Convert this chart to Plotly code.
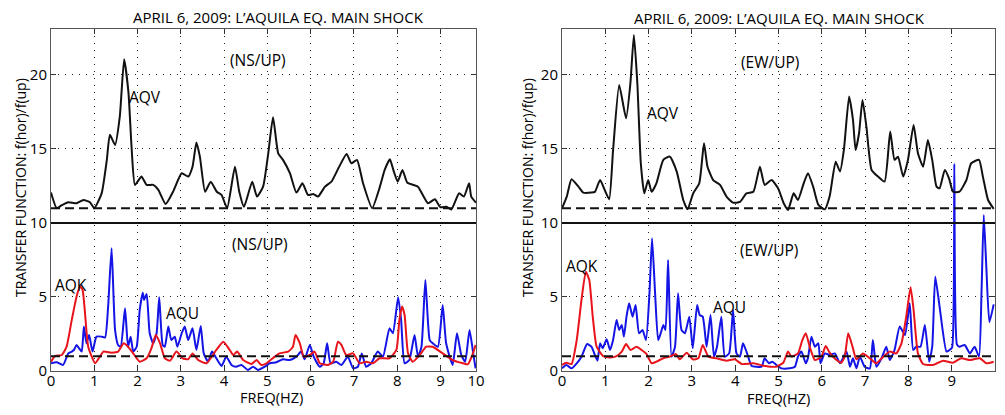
import plotly.graph_objects as go

# ---------------- data (frequency Hz, spectral ratio) ----------------
OFFSET = 10          # AQV curves are shifted up by 10
REF_LEVEL = 1        # dashed reference level (ratio = 1)

NS_AQV = [(0, 2.05), (0.13, 1.0), (0.25, 1.2), (0.40, 1.4), (0.59, 1.33), (0.75, 1.55), (0.90, 1.4),
          (1.0, 1.0), (1.17, 2.0), (1.29, 4.26), (1.36, 5.95), (1.48, 5.27), (1.59, 7.2), (1.69, 11.06),
          (1.79, 8.8), (1.86, 5.2), (1.94, 2.57), (2.09, 3.13), (2.21, 2.57), (2.36, 2.57), (2.48, 2.23),
          (2.65, 1.28), (2.82, 2.11), (3.02, 3.36), (3.17, 3.13), (3.27, 3.8), (3.36, 5.43), (3.44, 4.48),
          (3.56, 2.11), (3.69, 2.79), (3.83, 2.11), (3.94, 1.89), (4.07, 1.0), (4.25, 3.8), (4.35, 2.11),
          (4.46, 1.1), (4.65, 2.79), (4.76, 1.78), (4.90, 2.45), (5.02, 4.7), (5.13, 7.14), (5.25, 4.7),
          (5.36, 4.26), (5.52, 3.36), (5.67, 2.05), (5.81, 2.68), (5.94, 1.89), (6.06, 1.96), (6.17, 1.78),
          (6.33, 2.45), (6.48, 2.79), (6.64, 3.69), (6.83, 4.66), (6.94, 4.03), (7.07, 4.26), (7.21, 2.68),
          (7.42, 1.0), (7.60, 2.45), (7.71, 3.58), (7.83, 4.3), (7.91, 3.58), (8.01, 2.79), (8.12, 3.58),
          (8.23, 2.73), (8.37, 2.57), (8.48, 2.45), (8.71, 1.33), (8.87, 1.6), (9.0, 1.06), (9.14, 1.1),
          (9.25, 0.9), (9.43, 2.0), (9.54, 1.78), (9.66, 2.68), (9.71, 1.78), (9.82, 1.37)]

NS_AQK = [(0, .63), (.09, 1.01), (.25, 1.08), (.36, 1.64), (.48, 3.45), (.59, 5.02), (.67, 5.7), (.73, 5.47),
          (.78, 4.12), (.86, 1.64), (1.02, .52), (1.13, .97), (1.21, 1.31), (1.40, 1.24), (1.55, 1.31),
          (1.68, 1.87), (1.78, 1.64), (1.90, 1.19), (2.05, .63), (2.21, .86), (2.32, 1.53), (2.42, 2.43),
          (2.52, 1.87), (2.63, .86), (2.75, .70), (2.90, 1.31), (3.04, .86), (3.17, .79), (3.27, 1.19),
          (3.40, .74), (3.59, .52), (3.82, 1.42), (3.98, 1.98), (4.13, 1.42), (4.21, 1.08), (4.30, 1.31),
          (4.44, .74), (4.63, .47), (4.75, .74), (4.86, .41), (4.98, .52), (5.17, .97), (5.28, 1.19),
          (5.48, 1.31), (5.59, 1.64), (5.65, 2.43), (5.75, 1.87), (5.84, .97), (5.98, 1.08), (6.09, 1.31),
          (6.21, .52), (6.40, .41), (6.52, .63), (6.63, 1.98), (6.71, 1.76), (6.82, 1.08), (6.98, 1.19),
          (7.13, .52), (7.28, .63), (7.44, .52), (7.59, .86), (7.82, .86), (7.98, 1.42), (8.05, 3.45),
          (8.11, 4.35), (8.17, 3.78), (8.25, 1.19), (8.36, .63), (8.52, 1.08), (8.67, 1.64), (8.82, 1.64),
          (9.05, 1.19), (9.28, .74), (9.52, .52), (9.63, .45), (9.75, 1.19), (9.81, 1.76)]

NS_AQU = [(0, .52), (.13, .59), (.28, .41), (.40, 1.19), (.48, 1.31), (.53, 1.42), (.59, 1.76), (.65, 1.53),
          (.71, 1.31), (.76, 3.0), (.82, 1.87), (.88, 2.43), (.96, 1.31), (1.05, 2.32), (1.17, 2.32),
          (1.25, 2.27), (1.32, 4.35), (1.40, 8.29), (1.48, 2.77), (1.55, 1.76), (1.61, 1.64), (1.71, 4.23),
          (1.78, 1.64), (1.84, 2.32), (1.90, 1.31), (1.98, 1.64), (2.05, 4.12), (2.12, 5.29), (2.15, 4.8),
          (2.21, 5.2), (2.28, 2.55), (2.36, 1.87), (2.44, 2.55), (2.50, 4.98), (2.58, 1.76), (2.63, 1.64),
          (2.71, 3.0), (2.78, 2.09), (2.86, 2.32), (2.92, 1.64), (3.02, 2.55), (3.09, 3.0), (3.17, 2.09),
          (3.27, 2.88), (3.36, 1.42), (3.46, 3.04), (3.53, 1.19), (3.63, .63), (3.72, 1.31), (3.82, .86),
          (3.94, .34), (4.05, .97), (4.17, .41), (4.28, .29), (4.40, .41), (4.55, .07), (4.67, .29),
          (4.78, .07), (4.94, .29), (5.05, .52), (5.21, .59), (5.36, .79), (5.52, .74), (5.67, .97),
          (5.78, 1.31), (5.86, .79), (5.98, 1.76), (6.07, .97), (6.21, .29), (6.30, .52), (6.38, 1.87),
          (6.46, .52), (6.59, .63), (6.71, .41), (6.86, .97), (6.98, .18), (7.09, .29), (7.18, 1.19),
          (7.28, .29), (7.40, .52), (7.55, 1.31), (7.67, .97), (7.82, 2.88), (7.90, 2.55), (8.02, 4.98),
          (8.09, 3.45), (8.17, .52), (8.28, .74), (8.40, 2.43), (8.48, .97), (8.56, 1.64), (8.65, 6.15),
          (8.75, 2.09), (8.82, 1.87), (8.94, 1.64), (9.05, 4.46), (9.13, 1.87), (9.28, .41), (9.38, 2.55),
          (9.48, 1.08), (9.57, .63), (9.67, 2.77), (9.75, 1.31), (9.81, .18)]

EW_AQV = [(0, .99), (.11, 1.78), (.22, 2.95), (.38, 2.45), (.49, 2.05), (.68, 2.05), (.76, 2.1), (.88, 2.9),
          (.99, 2.2), (1.09, 1.6), (1.18, 4.93), (1.32, 9.32), (1.48, 7.07), (1.58, 9.44), (1.66, 12.7),
          (1.74, 9.44), (1.82, 4.03), (1.90, 2.0), (1.99, 2.9), (2.07, 2.11), (2.18, 2.68), (2.34, 4.26),
          (2.49, 4.48), (2.65, 3.47), (2.80, 1.55), (2.90, .92), (3.03, 2.0), (3.17, 2.68), (3.28, 5.38),
          (3.36, 3.8), (3.49, 2.9), (3.65, 2.57), (3.80, 1.78), (3.95, 1.37), (4.11, 1.42), (4.26, 2.0),
          (4.42, 2.11), (4.57, 3.8), (4.68, 2.57), (4.84, 2.9), (4.99, 2.34), (5.12, 1.33), (5.22, .88),
          (5.35, 2.0), (5.45, 1.55), (5.57, 2.57), (5.68, 3.36), (5.80, 2.45), (5.92, 1.22), (6.07, .92),
          (6.18, 1.78), (6.32, 4.14), (6.42, 3.47), (6.51, 4.93), (6.63, 8.54), (6.72, 6.96), (6.78, 4.93),
          (6.86, 6.06), (6.94, 8.31), (7.03, 6.5), (7.15, 3.58), (7.30, 3.13), (7.45, 2.79), (7.58, 6.17),
          (7.68, 4.26), (7.76, 4.48), (7.88, 3.13), (7.99, 4.26), (8.12, 6.62), (8.22, 4.71), (8.34, 3.8),
          (8.45, 5.6), (8.55, 4.26), (8.65, 2.45), (8.72, 2.34), (8.84, 3.58), (8.94, 3.0), (9.03, 2.11),
          (9.18, 2.11), (9.34, 2.9), (9.45, 4.03), (9.63, 4.26), (9.72, 3.13), (9.84, 1.55), (9.97, .95)]

EW_AQK = [(0, .41), (.10, .56), (.22, .47), (.34, 2.09), (.45, 4.8), (.55, 6.71), (.63, 6.15), (.71, 3.67),
          (.80, 1.64), (.95, 1.01), (1.11, .92), (1.26, 1.01), (1.38, 1.31), (1.48, 1.82), (1.58, 1.42),
          (1.72, 1.64), (1.84, 1.42), (1.95, 1.15), (2.07, .52), (2.18, .63), (2.34, .86), (2.49, .97),
          (2.63, 1.15), (2.72, .79), (2.88, 1.24), (3.02, .79), (3.15, .86), (3.25, 1.76), (3.38, .97),
          (3.57, .86), (3.80, .70), (3.99, .79), (4.15, .47), (4.42, .52), (4.65, .36), (4.95, .29),
          (5.11, .56), (5.22, 1.31), (5.30, .97), (5.45, 1.19), (5.55, 2.09), (5.63, 2.55), (5.72, 1.64),
          (5.84, .74), (5.99, .97), (6.09, 1.69), (6.18, 1.24), (6.34, .74), (6.45, .56), (6.53, .97),
          (6.61, 2.55), (6.71, 1.64), (6.80, .79), (6.95, 1.19), (7.11, .86), (7.26, .52), (7.42, .97),
          (7.57, 1.31), (7.72, 1.19), (7.84, 1.87), (7.95, 3.67), (8.05, 5.65), (8.12, 4.12), (8.22, 1.19),
          (8.34, .47), (8.57, .41), (8.80, .70), (9.03, .56), (9.22, .86), (9.42, .74), (9.65, .86),
          (9.80, .52), (9.97, .63)]

EW_AQU = [(0, .18), (.10, .41), (.22, .18), (.34, .52), (.45, .97), (.58, 1.82), (.68, 1.64), (.76, 1.08),
          (.82, .70), (.88, 1.87), (.94, 1.53), (1.03, 2.14), (1.11, 1.42), (1.18, 2.09), (1.26, 3.45),
          (1.32, 2.77), (1.38, 3.11), (1.43, 2.32), (1.49, 3.67), (1.55, 4.57), (1.63, 3.67), (1.70, 4.46),
          (1.78, 2.55), (1.86, 2.77), (1.94, 2.09), (2.02, 5.25), (2.08, 8.96), (2.15, 5.25), (2.22, 2.09),
          (2.28, 2.55), (2.34, 3.11), (2.39, 2.77), (2.45, 7.5), (2.53, .97), (2.61, 1.64), (2.68, 5.25),
          (2.76, 2.77), (2.84, 2.55), (2.94, 3.67), (3.02, 1.53), (3.12, 4.46), (3.18, 3.78), (3.25, 3.67),
          (3.34, 1.64), (3.43, 3.78), (3.51, .97), (3.58, 1.64), (3.68, 3.67), (3.76, .97), (3.86, 1.19),
          (3.95, 4.12), (4.03, 1.19), (4.11, .97), (4.18, 1.87), (4.26, 1.31), (4.38, .34), (4.49, .29),
          (4.61, .29), (4.68, .86), (4.78, .52), (4.86, .63), (4.95, .41), (5.07, .18), (5.26, .18),
          (5.38, .29), (5.45, .97), (5.53, 1.31), (5.63, .52), (5.68, .86), (5.76, 2.32), (5.84, 1.64),
          (5.92, 1.87), (5.97, .52), (6.07, 1.19), (6.18, 1.08), (6.30, 1.19), (6.42, .52), (6.57, 1.31),
          (6.65, .29), (6.72, .86), (6.80, .18), (6.88, .97), (6.99, .29), (7.11, .18), (7.18, 2.09),
          (7.26, .29), (7.38, .86), (7.49, 1.64), (7.57, .74), (7.68, 1.42), (7.80, 3.0), (7.92, 2.43),
          (8.03, 4.57), (8.11, 1.42), (8.18, 1.64), (8.28, 1.64), (8.38, 3.11), (8.48, .63), (8.55, 1.64),
          (8.62, 6.37), (8.72, 4.35), (8.88, 1.31), (8.95, 1.42), (9.01, 1.6), (9.06, 14.0), (9.12, 1.8),
          (9.18, 1.64), (9.30, 1.76), (9.42, 1.19), (9.53, 1.64), (9.63, .97), (9.69, 5.5), (9.74, 10.54),
          (9.80, 7.0), (9.87, 3.3), (9.97, 4.5)]

TITLE = "APRIL 6, 2009: L’AQUILA EQ. MAIN SHOCK"
YLABEL = "TRANSFER FUNCTION: f(hor)/f(up)"
XLABEL = "FREQ(HZ)"
X_TICKS = list(range(11))
Y_TICKS = [0, 5, 10, 15, 20]
LEFT_XMAX = 9.82
RIGHT_XMAX = 10.0
YMAX = 23.1

# ---------------- figure ----------------
PAGE_W, PAGE_H = 1005, 415
BODY = 8                               # default page margin around the plot div
W, H = PAGE_W - 2 * BODY, PAGE_H - 2 * BODY
FONT = "Open Sans"
BLACK, RED, BLUE = "#111111", "#e8141c", "#1414e6"


def xs(p):
    return [a for a, _ in p]


def ys(p, off=0):
    return [b + off for _, b in p]


fig = go.Figure()
panels = [
    ("x", "y", NS_AQV, NS_AQK, NS_AQU),
    ("x2", "y2", EW_AQV, EW_AQK, EW_AQU),
]
for xa, ya, aqv, aqk, aqu in panels:
    fig.add_trace(go.Scatter(x=xs(aqu), y=ys(aqu), xaxis=xa, yaxis=ya, mode="lines",
                             line=dict(color=BLUE, width=2, shape="spline", smoothing=0.5),
                             showlegend=False, hoverinfo="skip"))
    fig.add_trace(go.Scatter(x=xs(aqk), y=ys(aqk), xaxis=xa, yaxis=ya, mode="lines",
                             line=dict(color=RED, width=2, shape="spline", smoothing=0.5),
                             showlegend=False, hoverinfo="skip"))
    fig.add_trace(go.Scatter(x=xs(aqv), y=ys(aqv, OFFSET), xaxis=xa, yaxis=ya, mode="lines",
                             line=dict(color=BLACK, width=2, shape="spline", smoothing=0.5),
                             showlegend=False, hoverinfo="skip"))
    for lvl, dash in [(REF_LEVEL, "9px,5px"), (OFFSET + REF_LEVEL, "9px,5px"), (OFFSET, "solid")]:
        fig.add_shape(type="line", xref=f"{xa} domain", x0=0, x1=1, yref=ya, y0=lvl, y1=lvl,
                      line=dict(color=BLACK, width=2, dash=dash), layer="above")


def px_x(p):
    return (p - BODY) / W


def px_y(p):
    return 1 - (p - BODY) / H


axis_common = dict(showline=True, linecolor="#555555", linewidth=1, mirror="allticks",
                   ticks="inside", ticklen=5, tickcolor="#333333", showgrid=True,
                   gridcolor="#222222", gridwidth=1, griddash="1px,6px", zeroline=False,
                   automargin=False,
                   tickfont=dict(family=FONT, size=15, color="black"))

y_top, y_bot = 29, 371
fig.update_layout(
    width=W, height=H, margin=dict(l=0, r=0, t=0, b=0, autoexpand=False),
    paper_bgcolor="white", plot_bgcolor="white",
    font=dict(family=FONT, color="black"),
    xaxis=dict(domain=[px_x(51), px_x(476)], range=[0, LEFT_XMAX],
               tickvals=X_TICKS[:-1] + [LEFT_XMAX], ticktext=[str(t) for t in X_TICKS],
               anchor="y", ticklabelstandoff=-4, **axis_common),
    yaxis=dict(domain=[px_y(y_bot), px_y(y_top)], range=[0, YMAX], tickvals=Y_TICKS,
               anchor="x", **axis_common),
    xaxis2=dict(domain=[px_x(562), px_x(995)], range=[0, RIGHT_XMAX], tickvals=X_TICKS,
                anchor="y2", ticklabelstandoff=-4, **axis_common),
    yaxis2=dict(domain=[px_y(y_bot), px_y(y_top)], range=[0, YMAX], tickvals=Y_TICKS,
                anchor="x2", **axis_common),
)

ann = []


def add_text(text, x, y, xref="paper", yref="paper", size=15, angle=0):
    ann.append(dict(text=text, x=x, y=y, xref=xref, yref=yref, showarrow=False,
                    xanchor="center", yanchor="middle", textangle=angle,
                    font=dict(size=size, family=FONT, color="black")))


# titles, axis labels (paper coordinates)
for cx, ty, ly_x, xl_x, xl_y in [(278, 17, 20, 271, 397), (779, 18, 527, 778, 398)]:
    add_text(TITLE, px_x(cx), px_y(ty), size=15)
    add_text(YLABEL, px_x(ly_x), px_y(188), size=14, angle=-90)
    add_text(XLABEL, px_x(xl_x), px_y(xl_y), size=14.5)

# in-plot labels (data coordinates)
labels = [
    ("x", "y", "AQV", 2.17, 18.5), ("x", "y", "(NS/UP)", 4.79, 21.0), ("x", "y", "(NS/UP)", 4.83, 8.6),
    ("x", "y", "AQK", 0.46, 5.8), ("x", "y", "AQU", 3.04, 3.9),
    ("x2", "y2", "AQV", 2.33, 17.4), ("x2", "y2", "(EW/UP)", 4.8, 20.9), ("x2", "y2", "(EW/UP)", 4.78, 8.2),
    ("x2", "y2", "AQK", 0.47, 7.1), ("x2", "y2", "AQU", 3.86, 4.35),
]
for xr, yr, t, x, y in labels:
    add_text(t, x, y, xref=xr, yref=yr, size=15.5)
fig.update_layout(annotations=ann)

fig.write_html("out.html")
